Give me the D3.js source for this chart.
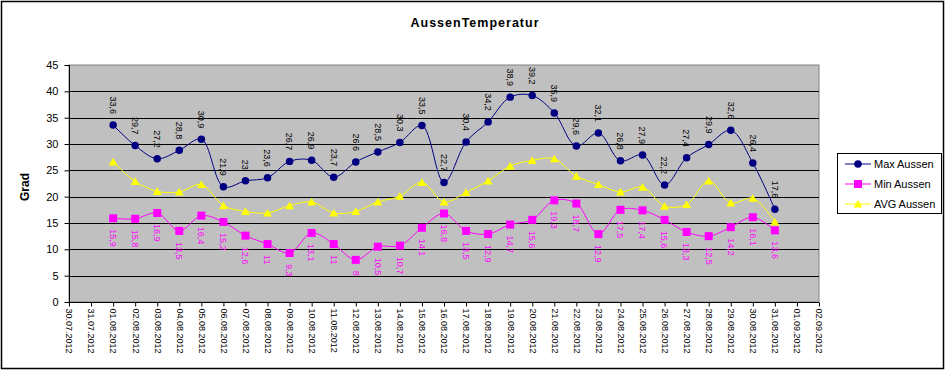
<!DOCTYPE html>
<html>
<head>
<meta charset="utf-8">
<script src="https://cdn.jsdelivr.net/npm/d3@7"></script>
<style>
  body { margin: 0; background: #fff; }
  svg { display: block; font-family: "Liberation Sans", Arial, sans-serif; }
</style>
</head>
<body>
<div id="chart"></div>
<script>
// category axis: 30.07.2012 .. 02.09.2012
const dates = ["30.07.2012","31.07.2012","01.08.2012","02.08.2012","03.08.2012","04.08.2012","05.08.2012",
  "06.08.2012","07.08.2012","08.08.2012","09.08.2012","10.08.2012","11.08.2012","12.08.2012","13.08.2012",
  "14.08.2012","15.08.2012","16.08.2012","17.08.2012","18.08.2012","19.08.2012","20.08.2012","21.08.2012",
  "22.08.2012","23.08.2012","24.08.2012","25.08.2012","26.08.2012","27.08.2012","28.08.2012","29.08.2012",
  "30.08.2012","31.08.2012","01.09.2012","02.09.2012"];
// measured days (01.08 - 31.08)
const days = dates.slice(2, 33);
const maxAussen = [33.6,29.7,27.2,28.8,30.9,21.9,23,23.6,26.7,26.9,23.7,26.6,28.5,30.3,33.5,22.7,
  30.4,34.2,38.9,39.2,35.9,29.6,32.1,26.8,27.9,22.2,27.4,29.9,32.6,26.4,17.6];
const minAussen = [15.9,15.8,16.9,13.5,16.4,15.2,12.6,11,9.3,13.1,11,8,10.5,10.7,14.1,16.8,
  13.5,12.9,14.7,15.6,19.3,18.7,12.9,17.5,17.4,15.6,13.3,12.5,14.2,16.1,13.6];
const avgAussen = [26.6,22.9,21.0,20.9,22.3,18.3,17.2,16.9,18.3,19.0,16.9,17.2,19.0,20.1,22.7,19.0,
  20.8,23.0,25.8,26.9,27.2,23.9,22.3,20.9,21.8,18.2,18.5,23.0,18.8,19.7,15.2];
const yTicks = [0,5,10,15,20,25,30,35,40,45];

const width = 946, height = 371;
const plot = {left: 69, right: 819, top: 65, bottom: 302};

const svg = d3.select("#chart").append("svg")
  .attr("width", width).attr("height", height);

// chart frame
svg.append("rect")
  .attr("x", 1.5).attr("y", 1.5).attr("width", 942).attr("height", 367)
  .attr("fill", "#fff").attr("stroke", "#000").attr("stroke-width", 1.5);

let x = d3.scalePoint().domain(dates).range([plot.left, plot.right]);
let y = d3.scaleLinear().domain([0, 45]).range([plot.bottom, plot.top]);

// plot area
svg.append("rect")
  .attr("x", plot.left).attr("y", plot.top)
  .attr("width", plot.right - plot.left).attr("height", plot.bottom - plot.top)
  .attr("fill", "#c0c0c0").attr("stroke", "#808080");

// gridlines
svg.append("g")
  .selectAll("line")
  .data(yTicks.filter(d => d > 0 && d < 45))
  .enter().append("line")
    .attr("x1", plot.left).attr("x2", plot.right)
    .attr("y1", d => Math.round(y(d)) + 0.5).attr("y2", d => Math.round(y(d)) + 0.5)
    .attr("stroke", "#000");

// y axis
let yAxis = g => g
  .attr("transform", `translate(${plot.left + 0.5},0)`)
  .call(d3.axisLeft(y).tickValues(yTicks).tickSize(5).tickPadding(6))
  .call(g => g.select(".domain").attr("d", `M0,${plot.top}V${plot.bottom}`))
  .call(g => g.selectAll("text").attr("font-size", 11).attr("fill", "#000")
    .attr("font-family", "Liberation Sans, Arial, sans-serif"));
svg.append("g").call(yAxis);

// x axis
let xAxis = g => g
  .attr("transform", `translate(0,${plot.bottom + 0.5})`)
  .call(d3.axisBottom(x).tickSize(4).tickPadding(0))
  .call(g => g.select(".domain").attr("d", `M${plot.left},0H${plot.right}`))
  .call(g => g.selectAll("text")
    .attr("font-size", 9).attr("fill", "#000")
    .attr("font-family", "Liberation Sans, Arial, sans-serif")
    .attr("text-anchor", "start")
    .attr("transform", "translate(0,6) rotate(90)")
    .attr("x", 0).attr("y", 0).attr("dy", "0.35em"));
svg.append("g").call(xAxis);

// titles
svg.append("text")
  .attr("x", 475).attr("y", 27)
  .attr("text-anchor", "middle")
  .attr("font-size", 12.5).attr("font-weight", "bold").attr("letter-spacing", 1)
  .text("AussenTemperatur");

svg.append("text")
  .attr("transform", "translate(25,187) rotate(-90)")
  .attr("text-anchor", "middle").attr("dy", "0.35em")
  .attr("font-size", 12).attr("font-weight", "bold")
  .text("Grad");

const series = [
  {name: "MaxAussen", values: maxAussen, color: "#000080", marker: "circle"},
  {name: "MinAussen", values: minAussen, color: "#ff00ff", marker: "square"},
  {name: "AVGAussen", values: avgAussen, color: "#ffff00", marker: "triangle"}
];

const symbolFor = {
  circle: d3.symbol(d3.symbolCircle, 44),
  square: d3.symbol(d3.symbolSquare, 64),
  triangle: d3.symbol(d3.symbolTriangle, 34)
};

let line = d3.line()
  .x((d, i) => x(days[i]))
  .y(d => y(d))
  .curve(d3.curveCatmullRom.alpha(0.5));

// draw order: AVG, Min, Max
[series[2], series[1], series[0]].forEach(s => {
  svg.append("path")
    .datum(s.values)
    .attr("fill", "none")
    .attr("stroke", s.color)
    .attr("stroke-width", 1)
    .attr("d", line);

  svg.append("g")
    .selectAll("path")
    .data(s.values)
    .enter().append("path")
      .attr("d", symbolFor[s.marker]())
      .attr("transform", (d, i) => `translate(${x(days[i])},${y(d) + (s.marker === "triangle" ? 1 : 0)})`)
      .attr("fill", s.color);
});

// data labels (rotated)
svg.append("g")
  .selectAll("text")
  .data(maxAussen)
  .enter().append("text")
    .attr("transform", (d, i) => `translate(${x(days[i])},${y(d) - 11}) rotate(90)`)
    .attr("text-anchor", "end").attr("dy", "0.35em")
    .attr("font-size", 9).attr("fill", "#000")
    .text(d => String(d).replace(".", ","));

svg.append("g")
  .selectAll("text")
  .data(minAussen)
  .enter().append("text")
    .attr("transform", (d, i) => `translate(${x(days[i])},${y(d) + 11}) rotate(90)`)
    .attr("text-anchor", "start").attr("dy", "0.35em")
    .attr("font-size", 9).attr("fill", "#ff00ff")
    .text(d => String(d).replace(".", ","));

// legend
const legend = svg.append("g");
legend.append("rect")
  .attr("x", 837.5).attr("y", 153.5).attr("width", 104).attr("height", 60)
  .attr("fill", "#fff").attr("stroke", "#000");

series.forEach((s, i) => {
  const ly = 164 + i * 20;
  legend.append("line")
    .attr("x1", 845).attr("x2", 871).attr("y1", ly).attr("y2", ly)
    .attr("stroke", s.color);
  legend.append("path")
    .attr("d", symbolFor[s.marker]())
    .attr("transform", `translate(858,${ly + (s.marker === "triangle" ? 1 : 0)})`)
    .attr("fill", s.color);
  legend.append("text")
    .attr("x", 874).attr("y", ly).attr("dy", "0.35em")
    .attr("font-size", 11).attr("fill", "#000")
    .text(s.name.replace("Aussen", " Aussen").replace(" ", "\u2009"));
});
</script>
</body>
</html>
